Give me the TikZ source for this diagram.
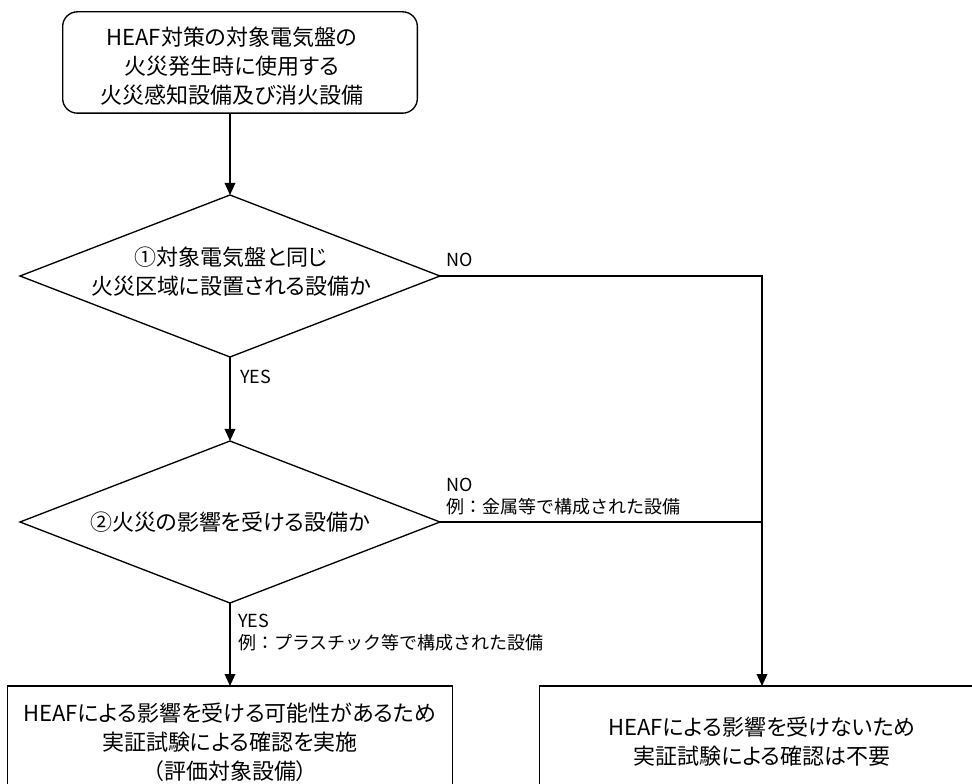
\documentclass[tikz,border=0pt]{standalone}
\usepackage{fontspec}
\setmainfont{Noto Sans CJK JP}[RawFeature=+palt]
\newfontfamily\labfont{Noto Sans CJK JP}
\usetikzlibrary{shapes.geometric,arrows.meta}
\begin{document}
\begin{tikzpicture}[x=0.75pt,y=-0.75pt, line width=1pt,
  every node/.style={inner sep=0pt, outer sep=0pt},
  main/.style={font=\fontsize{16.5}{21.75}\selectfont, align=center},
  lab/.style={font=\labfont\fontsize{13.5}{16.5}\selectfont, align=left},
  roundbox/.style={draw, rounded corners=11pt, minimum width=266pt, minimum height=76pt},
  dia/.style={draw, diamond, minimum width=315pt, minimum height=121.5pt},
  rectbox/.style={draw, rectangle, minimum width=334pt, minimum height=84pt},
  arr/.style={-{Triangle[length=9pt,width=8pt]}}]
\useasboundingbox (0,0) rectangle (972,784);
\clip (0,0) rectangle (972,784);
% boxes
\node[roundbox] (top) at (240,62.5) {};
\node[main] (toptxt) at (232,66.5) {HEAF対策の対象電気盤の\\火災発生時に使用する\\火災感知設備及び消火設備};
\node[dia] (d1) at (230,276) {};
\node[main] (d1t) at (231,272) {①対象電気盤と同じ\\火災区域に設置される設備か};
\node[dia] (d2) at (230,522) {};
\node[main] (d2t) at (230,522) {②火災の影響を受ける設備か};
\node[rectbox, main] (l) at (230,742) {HEAFによる影響を受ける可能性があるため\\実証試験による確認を実施\\（評価対象設備）};
\node[rectbox, main] (r) at (762,742) {HEAFによる影響を受けないため\\実証試験による確認は不要};
% connectors
\draw[arr] (top.south -| d1.north) -- (d1.north);
\draw[arr] (d1.south) -- (d2.north);
\draw[arr] (d2.south) -- (l.north);
\draw[arr] (d1.east) -| (r.north);
\draw (d2.east) -- (d2.east -| r.north);
% labels
\node[lab, anchor=base west] (no1) at (446,267) {NO};
\node[lab, anchor=south west] (no2) at (446,515) {NO\\例：金属等で構成された設備};
\node[lab, anchor=base west] (yes1) at (240,384) {YES};
\node[lab, anchor=south west] (yes2) at (238,651) {YES\\例：プラスチック等で構成された設備};
\end{tikzpicture}
\end{document}
